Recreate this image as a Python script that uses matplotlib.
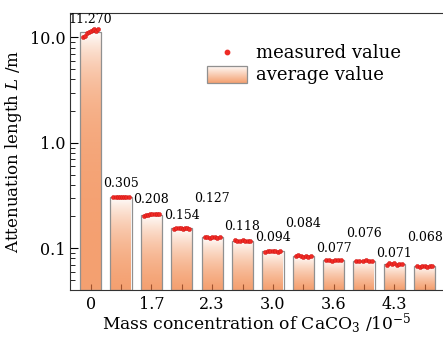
import numpy as np
import matplotlib
matplotlib.use("Agg")
import matplotlib.pyplot as plt
from matplotlib.colors import LinearSegmentedColormap
from matplotlib.legend_handler import HandlerBase
from matplotlib.image import BboxImage
from matplotlib.transforms import Bbox, TransformedBbox
from matplotlib.patches import Rectangle
from matplotlib.ticker import FixedLocator, FixedFormatter, LogLocator, NullFormatter

plt.rcParams['font.family'] = 'DejaVu Serif'
plt.rcParams['mathtext.fontset'] = 'dejavuserif'

# average attenuation length for each sample
averages = [11.270, 0.305, 0.208, 0.154, 0.127, 0.118, 0.094, 0.084, 0.077, 0.076, 0.071, 0.068]
avg_labels = ['11.270', '0.305', '0.208', '0.154', '0.127', '0.118', '0.094', '0.084',
              '0.077', '0.076', '0.071', '0.068']
# x tick labels (every other bar)
tick_labels = ['0', '', '1.7', '', '2.3', '', '3.0', '', '3.6', '', '4.3', '']
# measured values per sample
measured = [
    [10.0, 10.4, 10.9, 11.2, 11.5, 11.8, 12.0, 11.6, 11.9],
    [0.303, 0.306, 0.304, 0.307, 0.305, 0.303, 0.306, 0.305],
    [0.201, 0.205, 0.207, 0.209, 0.211, 0.210, 0.212, 0.209],
    [0.153, 0.155, 0.154, 0.156, 0.153, 0.155, 0.154, 0.152],
    [0.128, 0.127, 0.126, 0.128, 0.127, 0.126, 0.127],
    [0.119, 0.117, 0.118, 0.119, 0.117, 0.118, 0.118],
    [0.093, 0.094, 0.095, 0.094, 0.095, 0.093, 0.094],
    [0.085, 0.086, 0.084, 0.083, 0.084, 0.083, 0.085],
    [0.077, 0.078, 0.076, 0.077, 0.078, 0.077],
    [0.076, 0.075, 0.076, 0.077, 0.076, 0.075],
    [0.070, 0.072, 0.071, 0.072, 0.070, 0.071, 0.071],
    [0.068, 0.067, 0.068, 0.068, 0.067, 0.068, 0.068],
]
# label offsets above bar tops (pixels), staggered as in the figure
label_offsets = [12, 14, 15, 13, 39, 14, 14, 33, 12, 27, 10, 28]

cmap = LinearSegmentedColormap.from_list('grad', ['#ffffff', '#f4a070'])
grad = np.linspace(0, 1, 256).reshape(-1, 1)

fig = plt.figure(figsize=(4.43, 3.37), dpi=100)
ax = fig.add_axes([0.158, 0.139, 0.842, 0.822])
ax.set_yscale('log')

x = np.arange(len(averages))
w = 0.7
bottom = 0.04
for i, v in enumerate(averages):
    ax.imshow(grad, cmap=cmap, extent=[i - w / 2, i + w / 2, bottom, v],
              aspect='auto', interpolation='bicubic', zorder=1)
    ax.add_patch(Rectangle((i - w / 2, bottom), w, v - bottom, fc='none',
                           ec='#909090', lw=0.9, zorder=2))
    ax.annotate(avg_labels[i], (i, v), xytext=(0, label_offsets[i]),
                textcoords='offset pixels', ha='center', va='center', fontsize=9)
    pts = measured[i]
    xs = i + np.linspace(-0.25, 0.25, len(pts))
    ax.scatter(xs, pts, s=9, color='#ee2b25', zorder=3, linewidths=0.3, edgecolors='#d01010')
ax.set_xlim(-0.68, 11.6)
ax.set_ylim(0.04, 17)

ax.xaxis.set_major_locator(FixedLocator(x))
ax.xaxis.set_major_formatter(FixedFormatter(tick_labels))
ax.yaxis.set_major_locator(FixedLocator([0.1, 1, 10]))
ax.yaxis.set_major_formatter(FixedFormatter(['0.1', '1.0', '10.0']))
ax.yaxis.set_minor_locator(LogLocator(base=10, subs=np.arange(2, 10)))
ax.yaxis.set_minor_formatter(NullFormatter())
ax.tick_params(axis='both', which='both', direction='in', labelsize=11.5)
ax.tick_params(axis='x', pad=4)
ax.tick_params(axis='y', which='major', length=6)
ax.tick_params(axis='y', which='minor', length=3.5)
ax.tick_params(axis='x', which='major', length=4, color='#a0522d')
ax.spines['right'].set_visible(False)
for s in ['left', 'bottom', 'top']:
    ax.spines[s].set_color('#333333')

ax.set_xlabel(r'Mass concentration of CaCO$_3$ /10$^{-5}$', fontsize=12.3, labelpad=-1)
ax.set_ylabel(r'Attenuation length $L$ /m', fontsize=12, labelpad=4)


class GradHandler(HandlerBase):
    def create_artists(self, legend, orig_handle, xdescent, ydescent, width, height, fontsize, trans):
        bb = Bbox.from_bounds(-xdescent, -ydescent, width, height)
        img = BboxImage(TransformedBbox(bb, trans), cmap=cmap, interpolation='bicubic')
        img.set_data(grad)
        rect = Rectangle((-xdescent, -ydescent), width, height, fc='none', ec='#909090',
                         lw=0.9, transform=trans)
        return [img, rect]


dot = ax.scatter([], [], s=10, color='#ee2b25')
box = Rectangle((0, 0), 1, 1)
ax.legend([dot, box], ['measured value', 'average value'], handler_map={Rectangle: GradHandler()},
          loc='upper left', bbox_to_anchor=(0.325, 0.95), frameon=False, fontsize=13,
          handlelength=2.2, handleheight=1.1, handletextpad=0.5, labelspacing=0.2)

fig.savefig('out.png', dpi=100)
